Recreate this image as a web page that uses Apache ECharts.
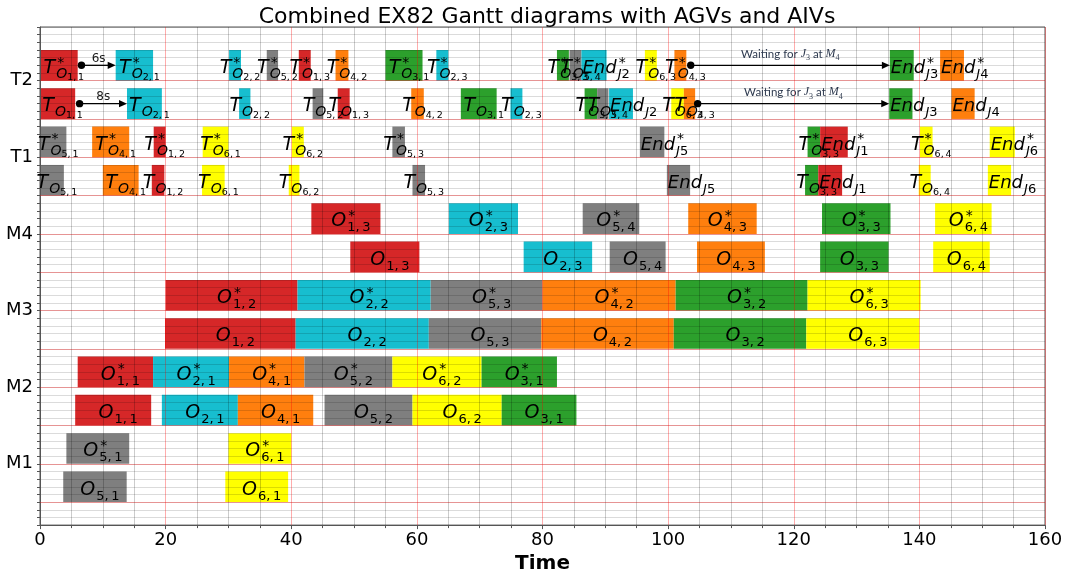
<!DOCTYPE html>
<html>
<head>
<meta charset="utf-8">
<script src="https://cdn.jsdelivr.net/npm/echarts@6/dist/echarts.min.js"></script>
<style>
  html, body { margin: 0; padding: 0; background: #fff; }
  #chart { width: 1067px; height: 579px; }
</style>
</head>
<body>
<div id="chart"></div>
<script>
// Resource names shown on the y axis, bottom to top
const rowLabels = ['M1', 'M2', 'M3', 'M4', 'T1', 'T2'];

// Tasks: [kind, job, operation, start, end]
// kind 'O' = machine operation, 'T' = transport of an operation, 'End' = job delivery
const m1Plain = [['O', 5, 1, 3.7, 13.8], ['O', 6, 1, 29.5, 39.5]];
const m1Star = [['O', 5, 1, 4.2, 14.2], ['O', 6, 1, 30.0, 40.0]];

const m2Plain = [['O', 1, 1, 5.6, 17.7], ['O', 2, 1, 19.4, 31.5], ['O', 4, 1, 31.5, 43.5],
                 ['O', 5, 2, 45.3, 59.3], ['O', 6, 2, 59.3, 73.5], ['O', 3, 1, 73.5, 85.4]];
const m2Star = [['O', 1, 1, 6.0, 18.0], ['O', 2, 1, 18.0, 30.1], ['O', 4, 1, 30.1, 42.1],
                ['O', 5, 2, 42.1, 56.1], ['O', 6, 2, 56.1, 70.3], ['O', 3, 1, 70.3, 82.3]];

const m3Plain = [['O', 1, 2, 19.9, 40.7], ['O', 2, 2, 40.7, 61.9], ['O', 5, 3, 61.9, 79.8],
                 ['O', 4, 2, 79.8, 100.9], ['O', 3, 2, 100.9, 122.0], ['O', 6, 3, 122.0, 140.0]];
const m3Star = [['O', 1, 2, 20.0, 41.0], ['O', 2, 2, 41.0, 62.2], ['O', 5, 3, 62.2, 80.0],
                ['O', 4, 2, 80.0, 101.2], ['O', 3, 2, 101.2, 122.2], ['O', 6, 3, 122.2, 140.2]];

const m4Plain = [['O', 1, 3, 49.4, 60.4], ['O', 2, 3, 77.0, 87.9], ['O', 5, 4, 90.7, 99.6],
                 ['O', 4, 3, 104.6, 115.4], ['O', 3, 3, 124.2, 135.1], ['O', 6, 4, 142.2, 151.2]];
const m4Star = [['O', 1, 3, 43.2, 54.2], ['O', 2, 3, 65.1, 76.1], ['O', 5, 4, 86.4, 95.4],
                ['O', 4, 3, 103.2, 114.1], ['O', 3, 3, 124.5, 135.4], ['O', 6, 4, 142.5, 151.5]];

const t1Plain = [['T', 5, 1, 0, 3.8], ['T', 4, 1, 10.0, 15.7], ['T', 1, 2, 17.8, 19.8],
                 ['T', 6, 1, 25.8, 29.4], ['T', 6, 2, 39.6, 41.3], ['T', 5, 3, 59.3, 61.3],
                 ['End', 5, 0, 99.8, 103.5], ['T', 3, 3, 121.8, 123.9], ['End', 1, 0, 123.9, 127.7],
                 ['T', 6, 4, 139.9, 141.8], ['End', 6, 0, 150.9, 154.6]];
const t1Star = [['T', 5, 1, 0, 4.2], ['T', 4, 1, 8.3, 14.2], ['T', 1, 2, 18.1, 20.0],
                ['T', 6, 1, 25.9, 30.0], ['T', 6, 2, 40.1, 42.0], ['T', 5, 3, 56.1, 58.1],
                ['End', 5, 0, 95.5, 99.4], ['T', 3, 3, 122.2, 124.2], ['End', 1, 0, 124.2, 128.6],
                ['T', 6, 4, 140.1, 142.1], ['End', 6, 0, 151.2, 155.2]];

const t2Plain = [['T', 1, 1, 0, 5.6], ['T', 2, 1, 13.85, 19.4], ['T', 2, 2, 31.7, 33.5],
                 ['T', 5, 2, 43.4, 45.1], ['T', 1, 3, 47.4, 49.3], ['T', 4, 2, 59.1, 61.1],
                 ['T', 3, 1, 67.0, 72.7], ['T', 2, 3, 74.9, 76.8], ['T', 3, 3, 86.7, 88.7],
                 ['T', 5, 4, 88.7, 90.5], ['End', 2, 0, 90.6, 94.4], ['T', 6, 3, 100.5, 102.5],
                 ['T', 4, 3, 102.5, 104.3], ['End', 3, 0, 135.2, 138.9], ['End', 4, 0, 145.1, 148.8]];
const t2Star = [['T', 1, 1, 0, 6.0], ['T', 2, 1, 12.05, 18.0], ['T', 2, 2, 30.1, 32.0],
                ['T', 5, 2, 36.1, 37.9], ['T', 1, 3, 41.2, 43.1], ['T', 4, 2, 47.05, 49.1],
                ['T', 3, 1, 55.0, 60.9], ['T', 2, 3, 63.1, 65.0], ['T', 3, 3, 82.3, 84.2],
                ['T', 5, 4, 84.3, 86.2], ['End', 2, 0, 86.2, 90.2], ['T', 6, 3, 96.3, 98.2],
                ['T', 4, 3, 101.0, 102.9], ['End', 3, 0, 135.3, 139.1], ['End', 4, 0, 143.3, 147.1]];

// Transfer gaps between the first two transports: [row, from, to, text]
const transferArrows = [[11, 6.6, 12.05, '6s'], [10, 6.3, 13.85, '8s']];
// AGV waiting periods: [row, from, to]
const waitArrows = [[11, 103.6, 135.3], [10, 104.7, 135.2]];

// Row order bottom to top: plain schedule, then starred schedule, for each resource
const rowTasks = [m1Plain, m1Star, m2Plain, m2Star, m3Plain, m3Star,
                  m4Plain, m4Star, t1Plain, t1Star, t2Plain, t2Star];

const jobColors = { 1: '#d62728', 2: '#17becf', 3: '#2ca02c', 4: '#ff7f0e', 5: '#7f7f7f', 6: '#ffff00' };
const KIND_CODE = { O: 0, T: 1, End: 2 };
const BAR_H = 0.8;
const FAM = '"DejaVu Sans"';
const RED_GRID = 'rgba(255,0,0,0.32)';

const taskData = [];
rowTasks.forEach((tasks, row) => {
  const star = row % 2 === 1 ? 1 : 0;
  tasks.forEach(t => {
    taskData.push([t[3], t[4], row, t[1], t[2], KIND_CODE[t[0]], star]);
  });
});

const measureCtx = document.createElement('canvas').getContext('2d');
function textWidth(t, font) { measureCtx.font = font; return measureCtx.measureText(t).width; }
function fnt(size, italic) { return (italic ? 'italic ' : '') + size + 'px ' + FAM; }

// canvas 'middle' sits about 0.26em above the alphabetic baseline for DejaVu Sans
function textAt(t, font, size, x, baseline, fill) {
  return {
    type: 'text',
    style: { text: t, x: x, y: baseline - 0.26 * size, font: font, fill: fill || '#000',
             align: 'left', verticalAlign: 'middle' }
  };
}

function barItem(params, api) {
  const a = api.coord([api.value(0), api.value(2)]);
  const b = api.coord([api.value(1), api.value(2) + BAR_H]);
  return {
    type: 'rect',
    shape: { x: a[0], y: b[1], width: b[0] - a[0], height: a[1] - b[1] },
    style: { fill: jobColors[api.value(3)] }
  };
}

function labelItem(params, api) {
  const job = api.value(3), op = api.value(4), kind = api.value(5), star = api.value(6);
  const a = api.coord([api.value(0), api.value(2)]);
  const b = api.coord([api.value(1), api.value(2) + BAR_H]);
  const yc = (a[1] + b[1]) / 2;
  const base = yc + 7.8;
  let mainText, mainSize, sub = [], subsub = [];
  if (kind === 0) {
    mainText = 'O'; mainSize = 19;
    sub = [[job + ',\u2009' + op, 13, false]];
  } else if (kind === 1) {
    mainText = 'T'; mainSize = 19;
    sub = [['O', 14, true]];
    subsub = [[job + ',\u2009' + op, 9.5, false]];
  } else {
    mainText = 'End'; mainSize = 18;
    sub = [['J', 13, true], [String(job), 13, false]];
  }
  const wMain = textWidth(mainText, fnt(mainSize, true));
  const wSub = sub.reduce((s, p) => s + textWidth(p[0], fnt(p[1], p[2])), 0);
  const wSubsub = subsub.reduce((s, p) => s + textWidth(p[0], fnt(p[1], p[2])), 0);
  const wStar = star ? textWidth('*', fnt(14, false)) : 0;
  const total = wMain + Math.max(wStar + 2, 1 + wSub + wSubsub);
  const left = kind === 2 ? a[0] + 1 : (a[0] + b[0]) / 2 + 5 - total / 2;

  const els = [textAt(mainText, fnt(mainSize, true), mainSize, left, base)];
  if (star) els.push(textAt('*', fnt(14, false), 14, left + wMain + 2, base - 6.3));
  let x = left + wMain + 1;
  const subBase = base + 5;
  sub.forEach(p => {
    els.push(textAt(p[0], fnt(p[1], p[2]), p[1], x, subBase));
    x += textWidth(p[0], fnt(p[1], p[2]));
  });
  subsub.forEach(p => {
    els.push(textAt(p[0], fnt(p[1], p[2]), p[1], x, subBase + 2));
    x += textWidth(p[0], fnt(p[1], p[2]));
  });
  return { type: 'group', children: els };
}

function arrowShapes(p0, p1, lineY) {
  const head = 8, half = 3.6;
  return [
    { type: 'line', shape: { x1: p0, y1: lineY, x2: p1 - head + 1, y2: lineY },
      style: { stroke: '#000', lineWidth: 1.3 } },
    { type: 'polygon', shape: { points: [[p1, lineY], [p1 - head, lineY - half], [p1 - head, lineY + half]] },
      style: { fill: '#000' } },
    { type: 'circle', shape: { cx: p0, cy: lineY, r: 3.7 }, style: { fill: '#000' } }
  ];
}

function transferItem(params, api) {
  const row = api.value(0);
  const s = api.coord([api.value(1), row + BAR_H / 2]);
  const e = api.coord([api.value(2), row + BAR_H / 2]);
  const txt = transferArrows[params.dataIndex][3];
  const els = arrowShapes(s[0], e[0], s[1]);
  els.push({ type: 'text', style: { text: txt, x: (s[0] + e[0]) / 2, y: s[1] - 6.5,
             font: '12px ' + FAM, fill: '#1a1a1a', align: 'center', verticalAlign: 'middle' } });
  return { type: 'group', children: els };
}

function waitItem(params, api) {
  const row = api.value(0);
  const s = api.coord([api.value(1), row + BAR_H / 2]);
  const e = api.coord([api.value(2), row + BAR_H / 2]);
  const els = arrowShapes(s[0], e[0], s[1]);
  const sans = '11.5px "Lato"';
  const serifI = 'italic 12px "Liberation Serif"';
  const small = '8px "Liberation Serif"';
  const pieces = [['Waiting for ', sans, 0], ['J', serifI, 0], ['3', small, 2.5],
                  [' at ', sans, 0], ['M', serifI, 0], ['4', small, 2.5]];
  const total = pieces.reduce((sum, p) => sum + textWidth(p[0], p[1]), 0);
  let x = (s[0] + e[0]) / 2 - total / 2;
  const base = s[1] - 5.5;
  pieces.forEach(p => {
    els.push({ type: 'text', style: { text: p[0], x: x, y: base + p[2], font: p[1], fill: '#2e3a4f',
               align: 'left', verticalAlign: 'bottom' } });
    x += textWidth(p[0], p[1]);
  });
  return { type: 'group', children: els };
}

const chart = echarts.init(document.getElementById('chart'), null, { renderer: 'canvas' });

const redLines = [];
for (let r = 0; r < rowTasks.length; r++) redLines.push({ yAxis: r });

chart.setOption({
  animation: false,
  backgroundColor: '#fff',
  title: {
    text: 'Combined EX82 Gantt diagrams with AGVs and AIVs',
    left: 542, top: 1, textAlign: 'center',
    textStyle: { fontFamily: 'DejaVu Sans', fontSize: 22, fontWeight: 'normal', color: '#000' }
  },
  grid: { left: 40, right: 22, top: 27, bottom: 52, show: true, borderColor: '#555', borderWidth: 1 },
  xAxis: {
    type: 'value', min: 0, max: 160, interval: 20, z: 3,
    name: 'Time', nameLocation: 'middle', nameGap: 25,
    nameTextStyle: { fontFamily: 'DejaVu Sans', fontSize: 20, fontWeight: 'bold', color: '#000' },
    axisLine: { show: true, onZero: false, lineStyle: { color: '#555', width: 1 } },
    axisTick: { show: true, length: 4, lineStyle: { color: '#555' } },
    minorTick: { show: true, splitNumber: 4, length: 3, lineStyle: { color: '#555' } },
    axisLabel: { fontFamily: 'DejaVu Sans', fontSize: 18, color: '#000', margin: 6 },
    splitLine: { show: true, lineStyle: { color: RED_GRID, width: 1 } },
    minorSplitLine: { show: true, lineStyle: { color: 'rgba(0,0,0,0.2)', width: 1 } }
  },
  yAxis: {
    type: 'value', min: -0.6, max: 12.4, interval: 0.2, z: 3,
    axisLine: { show: true, onZero: false, lineStyle: { color: '#555', width: 1 } },
    axisTick: { show: true, length: 3, lineStyle: { color: '#555' } },
    axisLabel: {
      fontFamily: 'DejaVu Sans', fontSize: 18, color: '#000', margin: 7, showMinLabel: true, showMaxLabel: true,
      formatter: function (v) {
        const r = Math.round(v);
        if (Math.abs(v - r) > 1e-6 || r % 2 !== 1) return '';
        return rowLabels[(r - 1) / 2] || '';
      }
    },
    splitLine: { show: true, lineStyle: { color: 'rgba(0,0,0,0.14)', width: 1 } }
  },
  series: [
    {
      type: 'custom', name: 'tasks', z: 2, renderItem: barItem,
      encode: { x: [0, 1], y: 2 }, data: taskData, silent: true,
      markLine: {
        silent: true, symbol: ['none', 'none'], label: { show: false },
        lineStyle: { color: RED_GRID, width: 1, type: 'solid' },
        data: redLines
      }
    },
    {
      type: 'custom', name: 'labels', z: 6, renderItem: labelItem,
      encode: { x: [0, 1], y: 2 }, data: taskData, silent: true
    },
    {
      type: 'custom', name: 'transfers', z: 6, renderItem: transferItem,
      encode: { x: [1, 2], y: 0 }, data: transferArrows.map(a => [a[0], a[1], a[2]]), silent: true
    },
    {
      type: 'custom', name: 'waiting', z: 6, renderItem: waitItem,
      encode: { x: [1, 2], y: 0 }, data: waitArrows, silent: true
    }
  ]
});
</script>
</body>
</html>
